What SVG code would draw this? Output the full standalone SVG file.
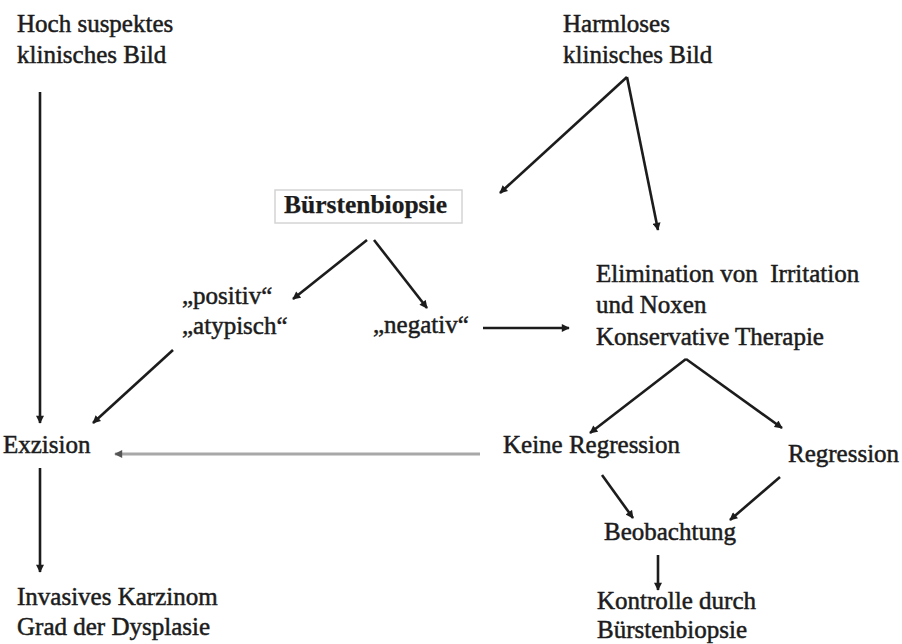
<svg xmlns="http://www.w3.org/2000/svg" width="902" height="644" viewBox="0 0 902 644">
<style>
text{font-family:"Liberation Serif","Times New Roman",serif;font-size:25px;fill:#1c1c1c;stroke:#1c1c1c;stroke-width:0.5}
.b{font-weight:bold;font-size:25.5px;stroke-width:0.25}
.ln{fill:none;stroke:#1c1c1c;stroke-width:2.6}
.gr{fill:none;stroke:#a8a8a8;stroke-width:3}
</style>
<defs>
<marker id="ah" viewBox="0 0 10 10" refX="9" refY="5" markerWidth="9" markerHeight="8" markerUnits="userSpaceOnUse" orient="auto"><path d="M0,0 L10,5 L0,10 z" fill="#1c1c1c"/></marker>
<marker id="ahg" viewBox="0 0 10 10" refX="9" refY="5" markerWidth="9" markerHeight="8" markerUnits="userSpaceOnUse" orient="auto"><path d="M0,0 L10,5 L0,10 z" fill="#555"/></marker>
</defs>
<rect width="902" height="644" fill="#fff"/>
<g id="connectors">
<line class="ln" x1="40" y1="92" x2="40" y2="423" marker-end="url(#ah)"/>
<line class="ln" x1="173" y1="350" x2="93" y2="423" marker-end="url(#ah)"/>
<line class="ln" x1="40" y1="468" x2="40" y2="572" marker-end="url(#ah)"/>
<line class="gr" x1="480" y1="454" x2="115" y2="454" marker-end="url(#ahg)"/>
<line class="ln" x1="367" y1="240" x2="293" y2="299" marker-end="url(#ah)"/>
<line class="ln" x1="374" y1="240" x2="427" y2="308" marker-end="url(#ah)"/>
<line class="ln" x1="483" y1="328" x2="569" y2="328" marker-end="url(#ah)"/>
<line class="ln" x1="627" y1="77" x2="500" y2="193" marker-end="url(#ah)"/>
<line class="ln" x1="627" y1="77" x2="658" y2="230" marker-end="url(#ah)"/>
<line class="ln" x1="686" y1="359" x2="590" y2="433" marker-end="url(#ah)"/>
<line class="ln" x1="686" y1="359" x2="782" y2="428" marker-end="url(#ah)"/>
<line class="ln" x1="602" y1="475" x2="633" y2="518" marker-end="url(#ah)"/>
<line class="ln" x1="780" y1="477" x2="730" y2="520" marker-end="url(#ah)"/>
<line class="ln" x1="658" y1="555" x2="658" y2="590" marker-end="url(#ah)"/>
</g>
<g id="hoch"><text x="17" y="32">Hoch suspektes</text><text x="17" y="63">klinisches Bild</text></g>
<g id="harmlos"><text x="563" y="32">Harmloses</text><text x="563" y="63">klinisches Bild</text></g>
<g id="buersten"><rect x="275" y="190" width="187" height="33" fill="#fff" stroke="#d4d4d4" stroke-width="1.5"/><text class="b" x="284" y="213">Bürstenbiopsie</text></g>
<g id="positiv"><text x="182" y="304">„positiv“</text><text x="182" y="334">„atypisch“</text></g>
<g id="negativ"><text x="373" y="333">„negativ“</text></g>
<g id="elimination"><text x="596" y="282" xml:space="preserve">Elimination von  Irritation</text><text x="596" y="313">und Noxen</text><text x="596" y="345">Konservative Therapie</text></g>
<g id="exzision"><text x="3" y="453">Exzision</text></g>
<g id="keine"><text x="503" y="453">Keine Regression</text></g>
<g id="regression"><text x="788" y="462">Regression</text></g>
<g id="beobachtung"><text x="604" y="540">Beobachtung</text></g>
<g id="kontrolle"><text x="597" y="609">Kontrolle durch</text><text x="597" y="638">Bürstenbiopsie</text></g>
<g id="invasiv"><text x="17" y="605">Invasives Karzinom</text><text x="17" y="635">Grad der Dysplasie</text></g>
</svg>
